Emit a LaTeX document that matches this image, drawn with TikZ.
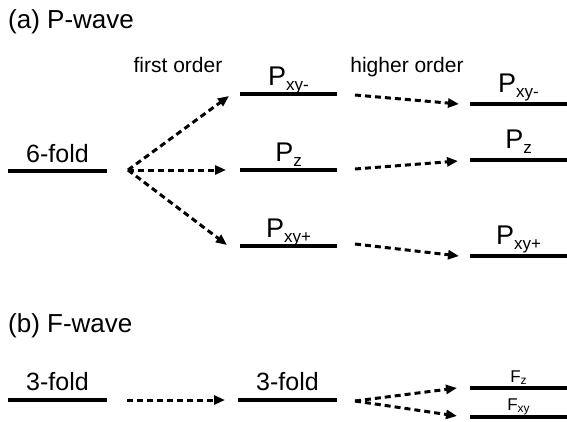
\documentclass[tikz,border=0pt]{standalone}
\usepackage{fontspec}
\setmainfont{Liberation Sans}
\usetikzlibrary{arrows.meta}

% level name with a lowered subscript
\newcommand{\lvlname}[2]{#1\raisebox{-5pt}{\fontsize{17}{17}\selectfont #2}}
\newcommand{\flvlname}[2]{#1\raisebox{-2pt}{\fontsize{12}{12}\selectfont #2}}

\begin{document}
\begin{tikzpicture}[
    x=1pt,
    y=-1pt,
    line cap=butt,
    stateline/.style={line width=4pt},
    splitarrow/.style={-{Triangle[length=11pt,width=9pt]}, line width=3pt,
                       dash pattern=on 6pt off 4pt},
    panel/.style={anchor=base west, inner sep=0pt, font=\fontsize{26}{30}\selectfont},
    fold/.style={anchor=base, inner sep=0pt, font=\fontsize{25}{30}\selectfont},
    order/.style={anchor=base, inner sep=0pt, font=\fontsize{21}{25}\selectfont},
    pname/.style={anchor=base, inner sep=0pt, font=\fontsize{27}{32}\selectfont},
    fname/.style={anchor=base, inner sep=0pt, font=\fontsize{17}{20}\selectfont}
]
\useasboundingbox (0,0) rectangle (567,421);

% (a) P-wave
\node[panel] (titleA) at (8,28) {(a) P-wave};
\node[order] (first)  at (178,72) {first order};
\node[order] (higher) at (407,72) {higher order};

% level before splitting
\draw[stateline] (8,171) -- (107,171);
\node[fold] (six) at (57.5,162) {6-fold};

% first order levels
\draw[stateline] (240,94) -- (337,94);
\draw[stateline] (240,170) -- (337,170);
\draw[stateline] (240,246) -- (337,246);
\node[pname] (PxyMa) at (288.5,85) {\lvlname{P}{xy-}};
\node[pname] (Pza)   at (288.5,161) {\lvlname{P}{z}};
\node[pname] (PxyPa) at (288.5,237) {\lvlname{P}{xy+}};

% higher order levels
\draw[stateline] (470,104) -- (567,104);
\draw[stateline] (470,160) -- (567,160);
\draw[stateline] (470,256) -- (567,256);
\node[pname] (PxyMb) at (518.5,92) {\lvlname{P}{xy-}};
\node[pname] (Pzb)   at (518.5,148) {\lvlname{P}{z}};
\node[pname] (PxyPb) at (518.5,244) {\lvlname{P}{xy+}};

% arrow ends
\coordinate (fork6) at (128,170);
\coordinate (toPxyMa) at (229,96);
\coordinate (toPza)   at (226,170);
\coordinate (toPxyPa) at (227,245);
\coordinate (fromPxyM) at (355,95);
\coordinate (fromPz)   at (355,169);
\coordinate (fromPxyP) at (355,244);
\coordinate (toPxyMb) at (459,104);
\coordinate (toPzb)   at (458,161);
\coordinate (toPxyPb) at (459,256);

\draw[splitarrow] (fork6) -- (toPxyMa);
\draw[splitarrow] (fork6) -- (toPza);
\draw[splitarrow] (fork6) -- (toPxyPa);
\draw[splitarrow] (fromPxyM) -- (toPxyMb);
\draw[splitarrow] (fromPz) -- (toPzb);
\draw[splitarrow] (fromPxyP) -- (toPxyPb);

% (b) F-wave
\node[panel] (titleB) at (8,332) {(b) F-wave};

\draw[stateline] (8,400) -- (107,400);
\draw[stateline] (238,400) -- (337,400);
\node[fold] (threeA) at (57.5,390) {3-fold};
\node[fold] (threeB) at (287.5,390) {3-fold};

\draw[stateline] (470,388) -- (567,388);
\draw[stateline] (470,417) -- (567,417);
\node[fname] (Fz)  at (518.5,382) {\flvlname{F}{z}};
\node[fname] (Fxy) at (518.5,410) {\flvlname{F}{xy}};

\coordinate (fromThreeA) at (127,400);
\coordinate (toThreeB)   at (225,400);
\coordinate (fork3) at (355,401);
\coordinate (toFz)  at (457,388);
\coordinate (toFxy) at (457,416);

\draw[splitarrow] (fromThreeA) -- (toThreeB);
\draw[splitarrow] (fork3) -- (toFz);
\draw[splitarrow] (fork3) -- (toFxy);

\end{tikzpicture}
\end{document}
